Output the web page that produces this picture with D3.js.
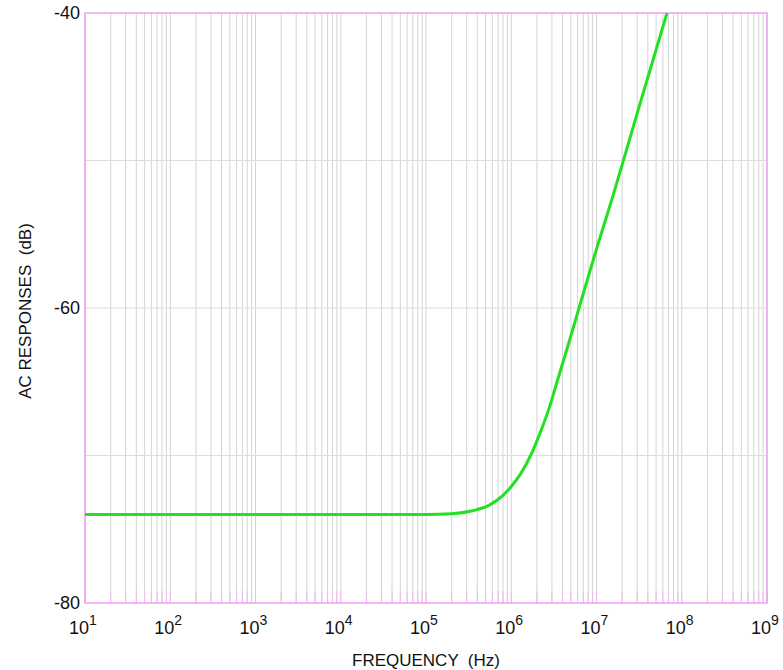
<!DOCTYPE html>
<html>
<head>
<meta charset="utf-8">
<script src="https://cdn.jsdelivr.net/npm/d3@7"></script>
<style>
  body { margin: 0; background: #fff; }
  text { font-family: "Liberation Sans", Arial, sans-serif; fill: #111; }
</style>
</head>
<body>
<svg id="chart" width="783" height="670"></svg>
<script>
// values
var freqHz = [10, 1e3, 1e5, 2e5, 3.5e5, 5.6e5, 8e5, 1e6, 1.27e6, 1.75e6, 2.17e6, 2.85e6, 3.53e6, 4.5e6, 6.24e6, 1e7, 1.56e7, 3e7, 6.71e7];
var respDb = [-74.0, -74.0, -74.0, -73.95, -73.75, -73.35, -72.7, -72.1, -71.3, -69.8, -68.5, -66.6, -64.8, -62.8, -60.0, -56.0, -52.4, -46.8, -40.0];
var yTicks = [-40, -60, -80];
var yGrid = [-50, -60, -70];
var xDecades = [1, 2, 3, 4, 5, 6, 7, 8, 9];

var svg = d3.select("#chart");
var m = {left: 85, top: 13, right: 767, bottom: 603};

var x = d3.scaleLog().domain([1e1, 1e9]).range([m.left, m.right]);
var y = d3.scaleLinear().domain([-80, -40]).range([m.bottom, m.top]);

// grid at 1..9 in every decade
var gridF = [];
for (var d = 1; d < 9; d++) {
  for (var k = 1; k < 10; k++) gridF.push(k * Math.pow(10, d));
}
gridF.push(1e9);

svg.append("g").selectAll("line.v").data(gridF).enter().append("line")
  .attr("x1", function(f) { return x(f); }).attr("x2", function(f) { return x(f); })
  .attr("y1", m.top).attr("y2", m.bottom)
  .attr("stroke", "#d4d4d4").attr("stroke-width", 1);

svg.append("g").selectAll("line.h").data(yGrid).enter().append("line")
  .attr("x1", m.left).attr("x2", m.right)
  .attr("y1", function(v) { return y(v); }).attr("y2", function(v) { return y(v); })
  .attr("stroke", "#e2dada").attr("stroke-width", 1.2);

// small pink ticks along bottom edge
svg.append("g").selectAll("line.t").data(gridF).enter().append("line")
  .attr("x1", function(f) { return x(f); }).attr("x2", function(f) { return x(f); })
  .attr("y1", m.bottom - 12).attr("y2", m.bottom)
  .attr("stroke", "#ecbcec").attr("stroke-width", 1);

svg.append("rect")
  .attr("x", m.left).attr("y", m.top)
  .attr("width", m.right - m.left).attr("height", m.bottom - m.top)
  .attr("fill", "none").attr("stroke", "#f0a0f0").attr("stroke-width", 1.5);

svg.append("clipPath").attr("id", "clip").append("rect")
  .attr("x", m.left).attr("y", m.top)
  .attr("width", m.right - m.left).attr("height", m.bottom - m.top);

var line = d3.line()
  .x(function(d, i) { return x(freqHz[i]); })
  .y(function(d) { return y(d); })
  .curve(d3.curveMonotoneX);

svg.append("path").datum(respDb)
  .attr("clip-path", "url(#clip)")
  .attr("d", line)
  .attr("fill", "none").attr("stroke", "#22e022").attr("stroke-width", 3);

// y tick labels
svg.append("g").selectAll("text").data(yTicks).enter().append("text")
  .attr("x", m.left - 5).attr("y", function(v) { return y(v) + 6; })
  .attr("text-anchor", "end").attr("font-size", 18)
  .text(function(v) { return v; });

// x tick labels 10^n
var xl = svg.append("g").selectAll("text").data(xDecades).enter().append("text")
  .attr("x", function(n) { return x(Math.pow(10, n)) - 2; })
  .attr("y", 634)
  .attr("text-anchor", "middle").attr("font-size", 18);
xl.append("tspan").text("10");
xl.append("tspan").attr("dy", -9).attr("font-size", 14).text(function(n) { return n; });

svg.append("text")
  .attr("x", 426).attr("y", 666)
  .attr("text-anchor", "middle").attr("font-size", 17)
  .attr("xml:space", "preserve")
  .text("FREQUENCY  (Hz)");

svg.append("text")
  .attr("transform", "translate(31,311) rotate(-90)")
  .attr("text-anchor", "middle").attr("font-size", 17)
  .attr("xml:space", "preserve")
  .text("AC RESPONSES  (dB)");
</script>
</body>
</html>
